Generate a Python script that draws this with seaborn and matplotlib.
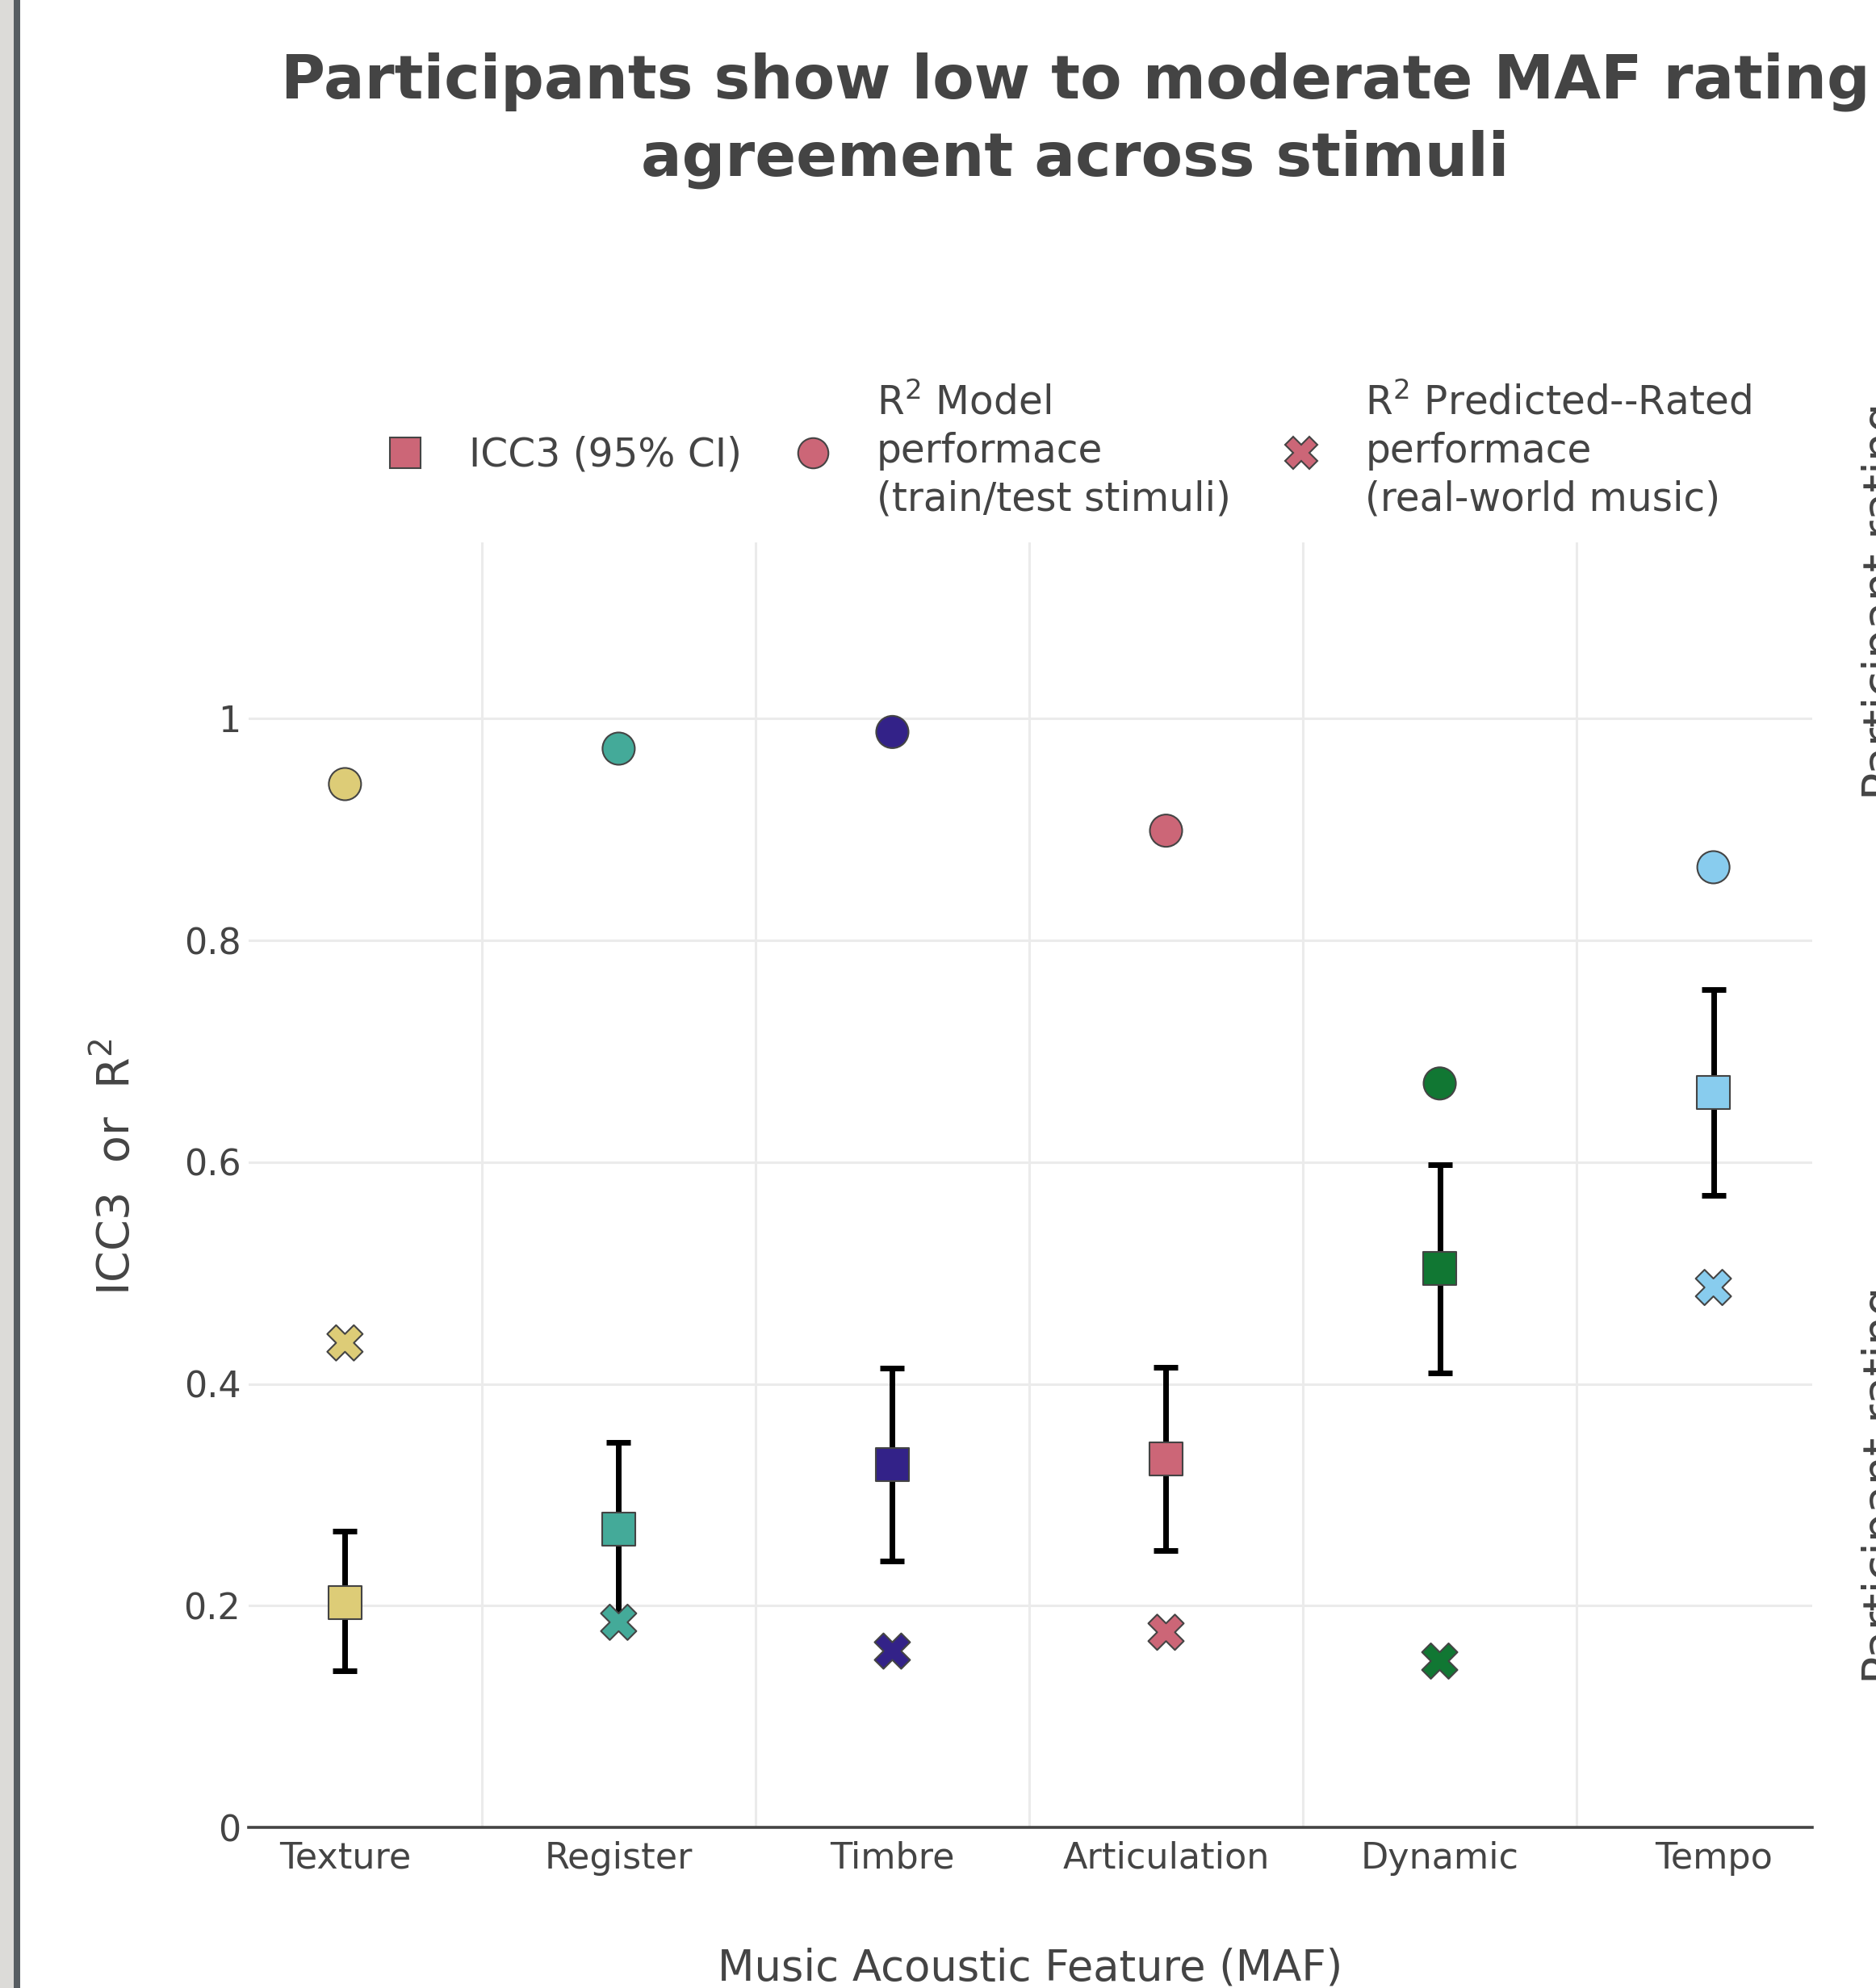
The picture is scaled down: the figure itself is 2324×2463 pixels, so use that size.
import numpy as np
import pandas as pd
import matplotlib
matplotlib.use("Agg")
import matplotlib.pyplot as plt
from matplotlib.lines import Line2D
from matplotlib.patches import Rectangle
from matplotlib.ticker import FixedLocator
import seaborn as sns

# ---- data ---------------------------------------------------------------
features = ["Texture", "Register", "Timbre", "Articulation", "Dynamic", "Tempo"]
feature_colors = ["#DDCC77", "#44AA99", "#332288", "#CC6677", "#117733", "#88CCEE"]

icc3 = [0.203, 0.269, 0.327, 0.332, 0.504, 0.663]
icc3_ci_low = [0.141, 0.190, 0.240, 0.250, 0.410, 0.570]
icc3_ci_high = [0.267, 0.347, 0.414, 0.415, 0.598, 0.756]
r2_model = [0.941, 0.973, 0.988, 0.899, 0.671, 0.866]
r2_predicted_rated = [0.437, 0.185, 0.159, 0.176, 0.150, 0.487]

y_ticks = [0, 0.2, 0.4, 0.6, 0.8, 1.0]
y_tick_labels = ["0", "0.2", "0.4", "0.6", "0.8", "1"]

legend_labels = [
    "ICC3 (95% CI)",
    "R$^{2}$ Model\nperformace\n(train/test stimuli)",
    "R$^{2}$ Predicted--Rated\nperformace\n(real-world music)",
]

# ---- style --------------------------------------------------------------
sns.set_style("white")
TEXT = "#444444"
plt.rcParams["font.family"] = ["DejaVu Sans"]
plt.rcParams["mathtext.default"] = "regular"
plt.rcParams["text.color"] = TEXT

df = pd.DataFrame({
    "feature": features,
    "pos": np.arange(len(features)),
    "icc3": icc3,
    "ci_low": icc3_ci_low,
    "ci_high": icc3_ci_high,
    "r2_model": r2_model,
    "r2_pred": r2_predicted_rated,
})
palette = dict(zip(features, feature_colors))

W, H = 2324, 2463
fig = plt.figure(figsize=(W / 100, H / 100), dpi=100)
fig.patch.set_facecolor("white")
ax = fig.add_axes([308 / W, 1 - 2264 / H, (2245 - 308) / W, (2264 - 672) / H])

# page edge on the left
fig.patches.append(Rectangle((0, 0), 17 / W, 1, transform=fig.transFigure,
                             facecolor="#dcdbd8", edgecolor="none", zorder=0))
fig.patches.append(Rectangle((17 / W, 0), 8 / W, 1, transform=fig.transFigure,
                             facecolor="#575d62", edgecolor="none", zorder=0))

# ICC3 confidence intervals
ax.errorbar(df["pos"], df["icc3"],
            yerr=[df["icc3"] - df["ci_low"], df["ci_high"] - df["icc3"]],
            fmt="none", ecolor="black", elinewidth=5, capsize=10.8, capthick=5,
            zorder=2)

edge = dict(edgecolor="#444444", linewidth=1.5)
sns.scatterplot(data=df, x="pos", y="icc3", hue="feature", palette=palette,
                marker="s", s=870, legend=False, zorder=3, ax=ax, **edge)
sns.scatterplot(data=df, x="pos", y="r2_model", hue="feature", palette=palette,
                marker="o", s=830, legend=False, zorder=3, ax=ax, **edge)
sns.scatterplot(data=df, x="pos", y="r2_pred", hue="feature", palette=palette,
                marker="X", s=1000, legend=False, zorder=4, ax=ax, **edge)

# ---- axes ---------------------------------------------------------------
ax.set_xlim(-0.352, 5.361)
ax.set_ylim(0, 1.159)
ax.set_xticks(df["pos"])
ax.set_xticklabels(features)
ax.xaxis.set_minor_locator(FixedLocator(df["pos"][:-1] + 0.5))
ax.set_yticks(y_ticks)
ax.set_yticklabels(y_tick_labels)
ax.set_axisbelow(True)
ax.grid(which="minor", axis="x", color="#ebebeb", linewidth=2.2)
ax.grid(which="major", axis="y", color="#ebebeb", linewidth=2.2)
ax.grid(which="major", axis="x", visible=False)
ax.tick_params(which="both", length=0, labelsize=32, labelcolor=TEXT)
ax.tick_params(axis="y", pad=7)
ax.tick_params(axis="x", pad=12)
for side in ("top", "right", "left"):
    ax.spines[side].set_visible(False)
ax.spines["bottom"].set_color(TEXT)
ax.spines["bottom"].set_linewidth(2.6)
ax.spines["bottom"].set_zorder(5)

ax.set_xlabel("Music Acoustic Feature (MAF)", fontsize=38, color=TEXT, va="center")
ax.xaxis.set_label_coords(0.5, -(2439 - 2264) / (2264 - 672))
ax.set_ylabel("ICC3  or  R$^{2}$", fontsize=40, color=TEXT, va="center")
ax.yaxis.set_label_coords(-(308 - 144) / (2245 - 308), 0.514)

# ---- legend -------------------------------------------------------------
key = "#CC6677"
handles = [
    Line2D([], [], linestyle="none", marker="s", markersize=27,
           markerfacecolor=key, markeredgecolor="#444444", markeredgewidth=1.5),
    Line2D([], [], linestyle="none", marker="o", markersize=27,
           markerfacecolor=key, markeredgecolor="#444444", markeredgewidth=1.5),
    Line2D([], [], linestyle="none", marker="X", markersize=29,
           markerfacecolor=key, markeredgecolor="#444444", markeredgewidth=1.5),
]
leg = fig.legend(handles, legend_labels, ncol=3, frameon=False, fontsize=35,
                 loc="center left", bbox_to_anchor=(478 / W, 1 - 559 / H),
                 borderpad=0, borderaxespad=0, handlelength=1.0,
                 handletextpad=1.125, columnspacing=1.3)
for t in leg.get_texts():
    t.set_color(TEXT)
    t.set_linespacing(1.3)

# ---- title and neighbouring panel labels -------------------------------
fig.text(1332 / W, 1 - 149 / H,
         "Participants show low to moderate MAF rating\nagreement across stimuli",
         ha="center", va="center", fontsize=54, fontweight="bold", color=TEXT,
         linespacing=1.4)
for yc in (745, 1840):
    fig.text(2306 / W, 1 - yc / H, "Participant rating", rotation=90,
             ha="left", va="center", fontsize=41, color=TEXT)

fig.savefig("out.png", dpi=100, facecolor="white")
